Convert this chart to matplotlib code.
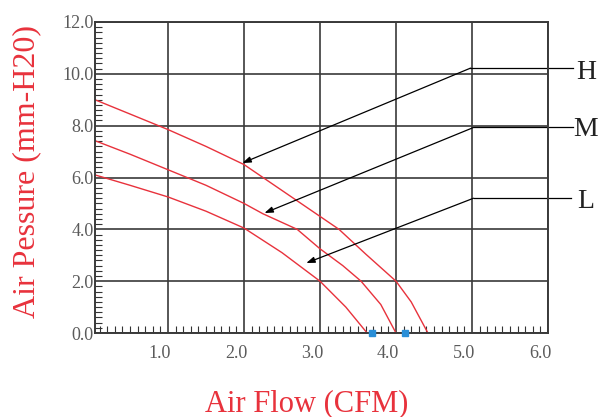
import matplotlib
matplotlib.use("Agg")
from matplotlib import pyplot as plt
from matplotlib.ticker import MultipleLocator
from matplotlib.transforms import ScaledTranslation

# P-Q curves (CFM, mm-H2O)
h_flow = [0.04, 0.5, 1.0, 1.5, 2.0, 2.5, 3.0, 3.25, 3.6, 4.0, 4.2, 4.42]
h_pressure = [9.0, 8.45, 7.85, 7.2, 6.5, 5.5, 4.5, 4.0, 3.05, 2.0, 1.2, 0.0]
m_flow = [0.04, 0.5, 1.0, 1.5, 2.0, 2.25, 2.7, 3.0, 3.3, 3.54, 3.8, 4.0]
m_pressure = [7.42, 6.9, 6.3, 5.7, 5.0, 4.6, 4.0, 3.25, 2.6, 2.0, 1.1, 0.0]
l_flow = [0.04, 0.5, 1.0, 1.5, 2.0, 2.5, 3.0, 3.34, 3.62]
l_pressure = [6.1, 5.7, 5.25, 4.7, 4.05, 3.1, 2.0, 1.0, 0.0]

marker_flow = [3.69, 4.12]
marker_pressure = [0.0, 0.0]

x_ticks = [1, 2, 3, 4, 5, 6]
x_labels = ["1.0", "2.0", "3.0", "4.0", "5.0", "6.0"]
y_ticks = [0, 2, 4, 6, 8, 10, 12]
y_labels = ["0.0", "2.0", "4.0", "6.0", "8.0", "10.0", "12.0"]

speed_names = ["H", "M", "L"]
arrow_tips = [(1.98, 6.56), (2.27, 4.63), (2.82, 2.7)]
arrow_knees = [(4.98, 10.22), (5.02, 7.93), (5.02, 5.2)]
line_ends = [6.33, 6.33, 6.3]
name_y = [10.05, 7.85, 5.07]

red = "#e8323c"
grey = "#5a5a5a"
serif = ["Liberation Serif", "DejaVu Serif"]

fig = plt.figure(figsize=(6.08, 4.17), dpi=100)
ax = fig.add_axes([95 / 608, 1 - 333 / 417, 453 / 608, 311 / 417])

ax.plot(h_flow, h_pressure, color=red, lw=1.0)
ax.plot(m_flow, m_pressure, color=red, lw=1.0)
ax.plot(l_flow, l_pressure, color=red, lw=1.0)
ax.plot(marker_flow, marker_pressure, linestyle="none", marker="s",
        markersize=5, color="#2a8fd8", clip_on=False, zorder=5)

ax.set_xlim(0.04, 6.0)
ax.set_ylim(0, 12)

ax.set_xticks(x_ticks, x_labels)
ax.set_yticks(y_ticks, y_labels)
ax.xaxis.set_minor_locator(MultipleLocator(0.1))
ax.yaxis.set_minor_locator(MultipleLocator(0.2))
ax.tick_params(which="major", length=0, labelcolor=grey, labelsize=13)
ax.tick_params(axis="x", which="major", pad=9)
ax.tick_params(axis="y", which="major", pad=1)
ax.tick_params(which="minor", direction="in", length=5, width=0.8, color="#333333")
for lab in ax.get_xticklabels() + ax.get_yticklabels():
    lab.set_family(serif)
for lab in ax.get_xticklabels():
    lab.set_transform(lab.get_transform() + ScaledTranslation(-0.08, 0, fig.dpi_scale_trans))

ax.grid(True, which="major", color="#3a3a3a", lw=1.2)
for sp in ax.spines.values():
    sp.set_color("#3a3a3a")
    sp.set_linewidth(1.4)

for name, tip, knee, end, ty in zip(speed_names, arrow_tips, arrow_knees, line_ends, name_y):
    ax.annotate("", xy=tip, xytext=knee,
                arrowprops=dict(arrowstyle="-|>,head_length=0.5,head_width=0.18",
                                color="black", lw=0.9, shrinkA=0, shrinkB=0))
    ax.plot([knee[0], end], [knee[1], knee[1]], color="black", lw=0.9, clip_on=False)
    ax.text(6.5, ty, name, ha="center", va="center", fontsize=20,
            family=serif, color="#222222", clip_on=False)

fig.text(307 / 608, 1 - 404 / 417, "Air Flow (CFM)", ha="center", va="center",
         fontsize=22, color=red, family=serif)
fig.text(27 / 608, 1 - 171 / 417, "Air Pessure (mm-H20)", ha="center", va="center",
         rotation=90, fontsize=23, color=red, family=serif)

fig.savefig("out.png", dpi=100)
